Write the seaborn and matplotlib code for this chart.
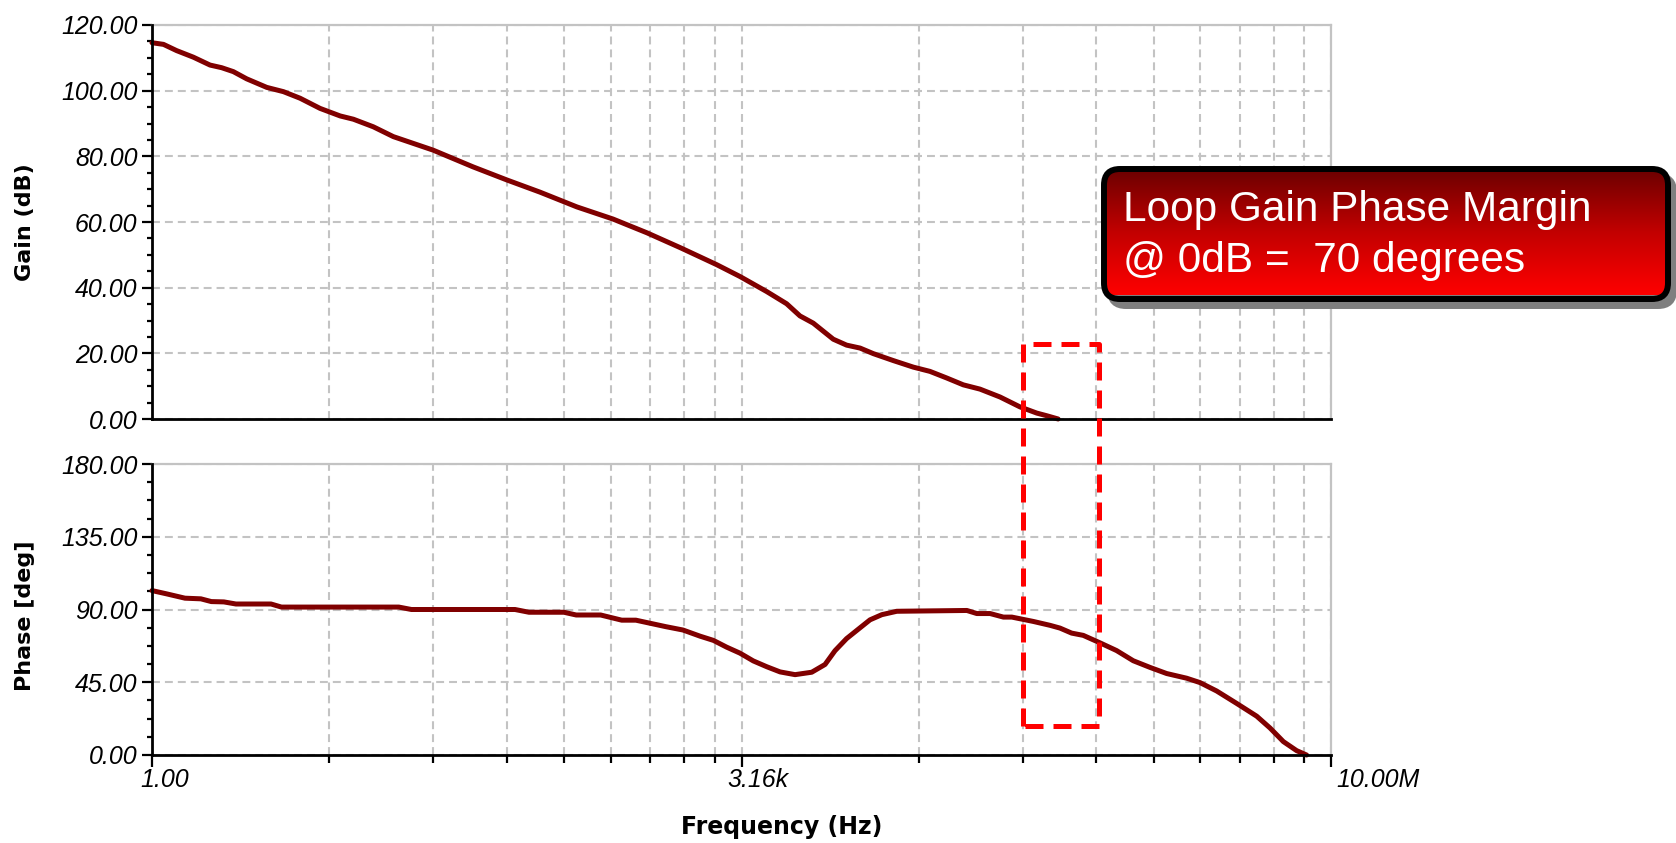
import numpy as np
import pandas as pd
import matplotlib
matplotlib.use("Agg")
import matplotlib.pyplot as plt
import seaborn as sns
from matplotlib.patches import FancyBboxPatch
from matplotlib.lines import Line2D
from matplotlib.transforms import ScaledTranslation
from matplotlib.ticker import MultipleLocator, NullFormatter
from matplotlib.colors import LinearSegmentedColormap

# ---------------- data ----------------
gain_freq_hz = [1.00, 1.17, 1.40, 1.76, 2.21, 2.59, 3.04, 3.65, 4.80, 6.03,
                7.57, 9.95, 13.1, 15.7, 20.6, 27.1, 46.6, 80.5, 128, 201,
                333, 546, 869, 1380, 2254, 3097, 4467, 5861, 7031, 8433,
                11090, 13300, 16000, 19190, 25180, 33110, 41590, 52240, 65620, 82410,
                108400, 142200, 179100, 205100, 239900]
gain_db = [114.6, 114.1, 112.2, 110.2, 107.8, 107.0, 105.8, 103.6, 101.0, 99.7,
           97.7, 94.6, 92.3, 91.3, 89.0, 86.0, 81.9, 76.8, 72.8, 69.1,
           64.6, 60.9, 56.7, 52.1, 47.0, 43.4, 38.8, 35.1, 31.4, 29.2,
           24.3, 22.5, 21.6, 19.9, 17.8, 15.8, 14.5, 12.5, 10.4, 9.1,
           6.7, 3.7, 1.8, 1.0, 0.0]

phase_freq_hz = [1.00, 1.23, 1.57, 1.95, 2.25, 2.67, 3.15, 5.09, 5.87, 29.2,
                 34.7, 143, 173, 279, 330, 461, 615, 746, 1122, 1422,
                 1795, 2153, 2582, 3097, 3715, 4467, 5358, 6577, 8260, 9908,
                 11350, 13300, 16000, 18320, 21530, 26420, 68870, 78890, 94620, 113500,
                 127400, 171000, 214800, 246000, 288400, 338100, 424600, 533300, 669900, 841400,
                 1057000, 1390000, 1667000, 2094000, 2754000, 3622000, 4345000, 5212000, 6252000, 7161000]
phase_deg = [101.7, 99.6, 97.0, 96.6, 94.9, 94.7, 93.4, 93.4, 91.5, 91.5,
             90.0, 90.0, 88.3, 88.3, 86.6, 86.6, 83.4, 83.4, 79.4, 77.3,
             73.5, 70.9, 66.7, 63.0, 58.2, 54.6, 51.4, 49.7, 51.2, 56.0,
             64.5, 72.0, 78.7, 83.6, 86.8, 88.9, 89.4, 87.5, 87.5, 85.3,
             85.3, 82.6, 80.2, 78.5, 75.4, 74.0, 69.4, 64.6, 58.3, 54.2,
             50.4, 47.5, 44.8, 39.6, 31.9, 24.0, 16.7, 8.3, 2.7, 0.0]

x_tick_values = [1.0, 3162.28, 1.0e7]
x_tick_labels = ["1.00", "3.16k", "10.00M"]
gain_ticks = [0, 20, 40, 60, 80, 100, 120]
phase_ticks = [0, 45, 90, 135, 180]

callout_lines = ["Loop Gain Phase Margin", "@ 0dB =  70 degrees"]
highlight_freq = [147900, 420000]
highlight_gain_top = 22.8
highlight_phase_bottom = 17.9

# ---------------- style ----------------
sns.set_theme(style="white")
plt.rcParams["font.family"] = ["Liberation Sans", "DejaVu Sans"]

W, H = 1676, 843
fig = plt.figure(figsize=(W / 100, H / 100), dpi=100)


def px_rect(l, t, r, b):
    return [l / W, 1 - b / H, (r - l) / W, (b - t) / H]


ax1 = fig.add_axes(px_rect(152, 25, 1331, 419))
ax2 = fig.add_axes(px_rect(152, 464, 1331, 755))

line_color = "#800000"
grid_color = "#c3c3c3"
grid_ls = (0, (3.8, 2.4))

df_gain = pd.DataFrame({"freq": gain_freq_hz, "gain": gain_db})
df_phase = pd.DataFrame({"freq": phase_freq_hz, "phase": phase_deg})

sns.lineplot(data=df_gain, x="freq", y="gain", ax=ax1, color=line_color,
             linewidth=3.6, estimator=None, sort=False, clip_on=False, zorder=3)
sns.lineplot(data=df_phase, x="freq", y="phase", ax=ax2, color=line_color,
             linewidth=3.6, estimator=None, sort=False, clip_on=False, zorder=3)

# log grid: two "major" intervals subdivided log-wise
minor_x = [k ** 3.5 for k in range(2, 10)] + [3162.28 * k ** 3.5 for k in range(2, 10)]

for ax, yt, ylim, ymin in ((ax1, gain_ticks, (0, 120), 5), (ax2, phase_ticks, (0, 180), 11.25)):
    ax.set_xscale("log")
    ax.set_xlim(1, 1e7)
    ax.set_ylim(*ylim)
    ax.set_xticks(x_tick_values)
    ax.set_xticks(minor_x, minor=True)
    ax.xaxis.set_minor_formatter(NullFormatter())
    ax.set_yticks(yt, labels=[f"{v:.2f}" for v in yt], fontstyle="italic", fontsize=18)
    ax.yaxis.set_minor_locator(MultipleLocator(ymin))
    ax.grid(True, which="both", axis="x", color=grid_color, lw=1.5, ls=grid_ls)
    ax.grid(True, which="major", axis="y", color=grid_color, lw=1.5, ls=grid_ls)
    ax.grid(False, which="minor", axis="y")
    ax.set_axisbelow(True)
    for s in ("left", "bottom"):
        ax.spines[s].set_color("black")
        ax.spines[s].set_linewidth(2.0)
        ax.spines[s].set_zorder(4)
    for s in ("top", "right"):
        ax.spines[s].set_color(grid_color)
        ax.spines[s].set_linewidth(1.6)
    ax.tick_params(axis="y", which="major", left=True, length=7.2, width=1.6,
                   direction="out", color="black", pad=3.2, labelsize=18, labelcolor="black")
    ax.tick_params(axis="y", which="minor", left=True, length=3.8, width=1.6,
                   direction="out", color="black")
    ax.set_xlabel("")
    ax.set_ylabel("")

ax1.tick_params(axis="x", which="both", bottom=False, labelbottom=False, length=0)
ax2.set_xticks(x_tick_values, labels=x_tick_labels, fontstyle="italic", fontsize=18, ha="left")
ax2.tick_params(axis="x", which="major", bottom=True, length=8.6, width=1.6,
                direction="out", color="black", pad=1.0, labelsize=18, labelcolor="black")
ax2.tick_params(axis="x", which="minor", bottom=True, length=5.8, width=1.6,
                direction="out", color="black")
for lab, dx in zip(ax2.get_xticklabels(), [-12, -14, 5]):
    lab.set_transform(lab.get_transform() + ScaledTranslation(dx / 100, 0, fig.dpi_scale_trans))

label_font = dict(family="DejaVu Sans", weight="bold", color="black")
ax1.set_ylabel("Gain (dB)", fontsize=16, va="center", **label_font)
ax1.yaxis.set_label_coords(-0.108, 0.50)
ax2.set_ylabel("Phase [deg]", fontsize=16, va="center", **label_font)
ax2.yaxis.set_label_coords(-0.108, 0.48)
ax2.set_xlabel("Frequency (Hz)", fontsize=17, va="center", **label_font)
ax2.xaxis.set_label_coords(0.534, -0.247)

# ---------------- overlay: highlight box and callout ----------------
ax_o = fig.add_axes([0, 0, 1, 1], zorder=10)
ax_o.set_axis_off()

bx0, by0, bx1, by1 = 1104, 169, 1668, 299
shadow = FancyBboxPatch((bx0 + 6, by0 + 7), bx1 - bx0, by1 - by0,
                        boxstyle="round,pad=0,rounding_size=16",
                        fc="#7f7f7f", ec="#7f7f7f", lw=4.3, zorder=1)
ax_o.add_patch(shadow)
box = FancyBboxPatch((bx0, by0), bx1 - bx0, by1 - by0,
                     boxstyle="round,pad=0,rounding_size=16",
                     fc="none", ec="black", lw=4.3, zorder=3)
ax_o.add_patch(box)
cmap = LinearSegmentedColormap.from_list("redgrad", ["#6c0000", "#c20000", "#ff0000"])
grad = np.linspace(0, 1, 256).reshape(-1, 1)
im = ax_o.imshow(grad, extent=(bx0, bx1, by1 - 4, by0), aspect="auto", cmap=cmap, zorder=2)
im.set_clip_path(box)
ax_o.text(1123, 221, callout_lines[0], color="white", fontsize=30.5, va="baseline", ha="left", zorder=4)
ax_o.text(1123, 272, callout_lines[1], color="white", fontsize=30.5, va="baseline", ha="left", zorder=4)

ax_o.set_xlim(0, W)
ax_o.set_ylim(H, 0)

# red dashed highlight box spanning both panels (positions through the data axes)
p_tl = ax1.transData.transform((highlight_freq[0], highlight_gain_top))
p_tr = ax1.transData.transform((highlight_freq[1], highlight_gain_top))
p_bl = ax2.transData.transform((highlight_freq[0], highlight_phase_bottom))
p_br = ax2.transData.transform((highlight_freq[1], highlight_phase_bottom))
inv = ax_o.transData.inverted()
pts = inv.transform(np.array([p_bl, p_tl, p_tr, p_br, p_bl]))
ax_o.add_line(Line2D(pts[:, 0], pts[:, 1], color="#ff0000", lw=3.6,
                     ls=(0, (3.6, 2.0)), zorder=1.5))
ax_o.set_xlim(0, W)
ax_o.set_ylim(H, 0)

fig.savefig("out.png", dpi=100)
